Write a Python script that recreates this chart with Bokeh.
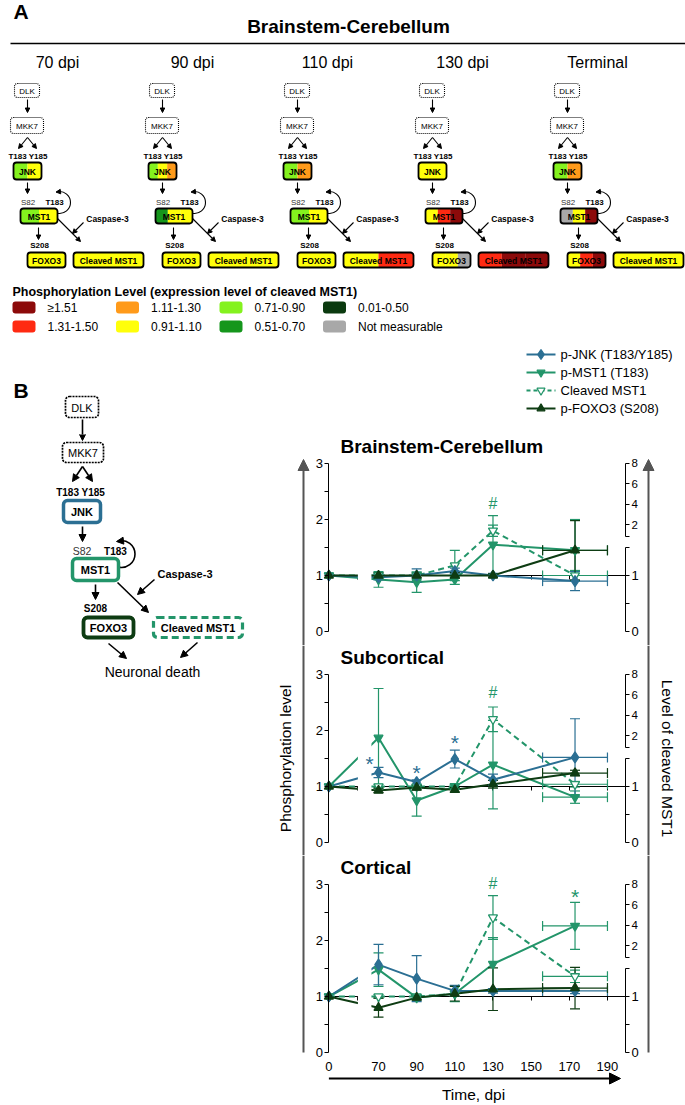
import math
from bokeh.plotting import figure
from bokeh.models import Range1d, LinearAxis, FixedTicker, BoxAnnotation, Arrow, NormalHead
from bokeh.layouts import column, row
from bokeh.embed import file_html
from bokeh.resources import INLINE
from bokeh.core.properties import value

# ------------------------------------------------------------------ data
PANEL_A_REGION = "Brainstem-Cerebellum"
A_TIMEPOINTS = ["70 dpi", "90 dpi", "110 dpi", "130 dpi", "Terminal"]

PHOSPHO_BINS = ["\u22651.51", "1.31-1.50", "1.11-1.30", "0.91-1.10",
                "0.71-0.90", "0.51-0.70", "0.01-0.50", "Not measurable"]
PHOSPHO_COLORS = ["#8c0a0a", "#ff2a12", "#ff9a1a", "#ffff0a",
                  "#84f21e", "#15961c", "#0b3a0f", "#a8a8a8"]

# colour bins (index into PHOSPHO_BINS) of each box, left to right, per time point
A_JNK_BINS = [[4, 3], [4, 3, 2], [4, 2], [3], [4, 2]]
A_MST1_BINS = [[4, 3], [5, 3, 3], [4, 3], [3, 1, 0], [7, 3, 0]]
A_FOXO3_BINS = [[3], [3], [3], [3, 3, 7], [3, 1, 0]]
A_CLEAVED_BINS = [[3], [3], [3, 1], [1, 0, 0], [3]]

REGIONS = ["Brainstem-Cerebellum", "Subcortical", "Cortical"]
SERIES = ["p-JNK (T183/Y185)", "p-MST1 (T183)", "Cleaved MST1", "p-FOXO3 (S208)"]
TIME_DPI = [0, 70, 90, 110, 130, 173]
TERMINAL_SD_DPI = 17
X_TICKS = [0, 70, 90, 110, 130, 150, 170, 190]
Y_TICKS = [0, 1, 2, 3]
CLEAVED_LO_TICKS = [0, 1]
CLEAVED_HI_TICKS = [2, 4, 6, 8]

BC_JNK = [1.00, 0.97, 1.00, 1.08, 1.00, 0.90]
BC_JNK_SEM = [0.0, 0.05, 0.12, 0.05, 0.04, 0.17]
BC_MST1 = [1.00, 0.93, 0.88, 0.93, 1.55, 1.45]
BC_MST1_SEM = [0.0, 0.14, 0.18, 0.09, 0.52, 0.55]
BC_CLEAVED = [1.00, 1.00, 1.00, 1.18, 1.80, 1.00]
BC_CLEAVED_SEM = [0.0, 0.04, 0.06, 0.27, 0.10, 0.09]
BC_FOXO3 = [1.00, 1.00, 1.00, 1.00, 1.00, 1.45]
BC_FOXO3_SEM = [0.0, 0.05, 0.04, 0.05, 0.03, 0.53]

SC_JNK = [1.00, 1.25, 1.08, 1.49, 1.12, 1.52]
SC_JNK_SEM = [0.0, 0.09, 0.04, 0.16, 0.10, 0.69]
SC_MST1 = [1.00, 1.87, 0.75, 1.00, 1.39, 0.81]
SC_MST1_SEM = [0.0, 0.88, 0.28, 0.05, 0.79, 0.11]
SC_CLEAVED = [1.00, 1.00, 1.00, 1.00, 2.20, 1.04]
SC_CLEAVED_SEM = [0.0, 0.04, 0.03, 0.04, 0.22, 0.05]
SC_FOXO3 = [1.00, 0.93, 0.98, 0.94, 1.04, 1.24]
SC_FOXO3_SEM = [0.0, 0.04, 0.04, 0.04, 0.07, 0.05]

CX_JNK = [1.00, 1.57, 1.32, 1.10, 1.10, 1.10]
CX_JNK_SEM = [0.0, 0.36, 0.41, 0.10, 0.04, 0.05]
CX_MST1 = [1.00, 1.48, 0.98, 1.05, 1.58, 2.26]
CX_MST1_SEM = [0.0, 0.30, 0.04, 0.14, 0.47, 0.42]
CX_CLEAVED = [1.00, 1.00, 1.00, 1.05, 2.41, 1.36]
CX_CLEAVED_SEM = [0.0, 0.03, 0.03, 0.05, 0.39, 0.11]
CX_FOXO3 = [1.00, 0.80, 0.98, 1.05, 1.13, 1.15]
CX_FOXO3_SEM = [0.0, 0.17, 0.04, 0.13, 0.38, 0.37]

SIG_REGION = [0, 1, 1, 1, 1, 2, 2]
SIG_DPI = [130, 70, 90, 110, 130, 130, 173]
SIG_LEVEL = [2.28, 1.48, 1.32, 1.86, 2.67, 3.02, 2.86]
SIG_MARK = ["#", "*", "*", "*", "#", "#", "*"]
SIG_SERIES = [1, 0, 0, 0, 1, 1, 1]
SIG_NUDGE_PX = [0, -9, 0, 0, 0, 0, 0]

# ------------------------------------------------------------------ style
FONT = "Liberation Sans"
JNK_C = "#2b6f93"
MST1_C = "#23956a"
FOXO3_C = "#0e3c13"
AX_C = "#555555"
SERIES_STYLE = [
    dict(color=JNK_C, marker="diamond", size=11, fill=JNK_C, dash="solid"),
    dict(color=MST1_C, marker="inverted_triangle", size=9, fill=MST1_C, dash="solid"),
    dict(color=MST1_C, marker="inverted_triangle", size=9, fill="white", dash="6 4"),
    dict(color=FOXO3_C, marker="triangle", size=9, fill=FOXO3_C, dash="solid"),
]
DRAW_ORDER = [2, 1, 0, 3]

PXU = 56.0
X_PX_PER_DPI = 1.908
X70_PX = 378


def dx(px):
    return 70 + (px - X70_PX) / X_PX_PER_DPI


X_ZERO = 44


def disp(t):
    return X_ZERO if t == 0 else t


GAP_L, GAP_R = 59.0, 66.3
RIGHT_AXIS_X = dx(625)
LEFT_ARROW_X = dx(303)
RIGHT_ARROW_X = dx(648)


def hi(L):
    return 2 + (L - 1.91) * 5.5


PAGE_W, PAGE_H = 685, 1105
SPLIT_X, SPLIT_Y = 272, 434
P_TOP = [434, 645, 855]
P_BOT = [645, 855, 1105]
P_ZERO = [631, 842, 1052]


# ------------------------------------------------------------------ helpers (page-pixel figures)
def page_fig(w, h, x0, y0):
    return figure(width=w, height=h, x_range=Range1d(x0, x0 + w), y_range=Range1d(-(y0 + h), -y0),
                  x_axis_type=None, y_axis_type=None, output_backend="svg",
                  toolbar_location=None, min_border=0, outline_line_color=None)


def T(f, x, py, s, size, bold=False, align="center", color="black", angle=0.0):
    f.text(x=[x], y=[-py], text=[s], text_font=value(FONT), text_font_size=f"{size}px",
           text_font_style="bold" if bold else "normal", text_align=align,
           text_baseline="middle", text_color=color, angle=angle)


def ARW(f, x0, py0, x1, py1, head=5, lw=1.2, color="black"):
    f.add_layout(Arrow(x_start=x0, y_start=-py0, x_end=x1, y_end=-py1, line_color=color,
                       line_width=lw, end=NormalHead(size=head, fill_color=color,
                                                     line_color=color, line_width=1)))


def FILLS(f, x0, x1, py0, py1, colors):
    n = len(colors)
    w = (x1 - x0) / n
    f.quad(left=[x0 + i * w for i in range(n)], right=[x0 + (i + 1) * w for i in range(n)],
           top=[-py0 - 0.5] * n, bottom=[-py1 + 0.5] * n, fill_color=colors, line_color=None)


def OUTLINE(f, x0, x1, py0, py1, lw=1.8, color="black", dash="solid", r=3):
    f.add_layout(BoxAnnotation(left=x0, right=x1, top=-py0, bottom=-py1, fill_alpha=0,
                               line_color=color, line_alpha=1, line_width=lw,
                               line_dash=dash, border_radius=r))


def ARC(f, cx, cpy, r, a0, a1, lw=1.2):
    f.arc(x=[cx], y=[-cpy], radius=r, start_angle=math.radians(a0), end_angle=math.radians(a1),
          direction="anticlock", line_color="black", line_width=lw)


def bins_to_colors(b):
    return [PHOSPHO_COLORS[i] for i in b]


# ------------------------------------------------------------------ top figure (panel A + B header)
top = page_fig(PAGE_W, SPLIT_Y, 0, 0)

T(top, 13, 11, "A", 21, bold=True, align="left")
T(top, 348, 26, PANEL_A_REGION, 19, bold=True)
top.segment(x0=[10], y0=[-43], x1=[685], y1=[-43], line_color="black", line_width=1.5)


def small_pathway(f, ox, k):
    OUTLINE(f, ox - 13, ox + 12, 83, 97, lw=1.1, dash="1 1", r=3)
    T(f, ox - 0.5, 90.5, "DLK", 8)
    ARW(f, ox, 99, ox, 112, head=4.5, lw=1.1)
    OUTLINE(f, ox - 17, ox + 16, 117, 133, lw=1.1, dash="1 1", r=3)
    T(f, ox - 0.5, 125.5, "MKK7", 8)
    ARW(f, ox, 137, ox - 9, 148, head=4.5, lw=1.1)
    ARW(f, ox, 137, ox + 9, 148, head=4.5, lw=1.1)
    T(f, ox + 0.5, 155.5, "T183 Y185", 8, bold=True)
    FILLS(f, ox - 14, ox + 14, 162, 179, bins_to_colors(A_JNK_BINS[k]))
    OUTLINE(f, ox - 14, ox + 14, 162, 179, lw=1.8)
    T(f, ox, 171, "JNK", 8.5, bold=True)
    ARW(f, ox, 182, ox, 193, head=4.5, lw=1.1)
    T(f, ox + 0.5, 201.5, "S82", 8, color="#333333")
    T(f, ox + 27, 201.5, "T183", 8, bold=True)
    FILLS(f, ox - 7, ox + 30, 208, 223, bins_to_colors(A_MST1_BINS[k]))
    OUTLINE(f, ox - 7, ox + 30, 208, 223, lw=1.8)
    T(f, ox + 11.5, 216, "MST1", 8.5, bold=True)
    ARC(f, ox + 32, 202, 11, -100, 100, lw=1.1)
    ARW(f, ox + 32, 191.2, ox + 28.5, 191.6, head=4.5, lw=1.1)
    T(f, ox + 80, 218.5, "Caspase-3", 8.5, bold=True)
    ARW(f, ox + 56, 222, ox + 45, 233, head=4.5, lw=1.1)
    ARW(f, ox + 30, 218, ox + 53, 241, head=4.5, lw=1.1)
    ARW(f, ox + 11, 227, ox + 11, 239, head=4.5, lw=1.1)
    T(f, ox + 12, 244.5, "S208", 8, bold=True)
    FILLS(f, ox, ox + 38, 252, 267, bins_to_colors(A_FOXO3_BINS[k]))
    OUTLINE(f, ox, ox + 38, 252, 267, lw=1.8)
    T(f, ox + 19, 260, "FOXO3", 8.5, bold=True)
    FILLS(f, ox + 46, ox + 116, 252, 267, bins_to_colors(A_CLEAVED_BINS[k]))
    OUTLINE(f, ox + 46, ox + 116, 252, 267, lw=1.8)
    T(f, ox + 81, 260, "Cleaved MST1", 8.5, bold=True)


for k, lab in enumerate(A_TIMEPOINTS):
    ox = 27 + 135 * k
    T(top, ox + 30, 62, lab, 16)
    small_pathway(top, ox, k)

# phosphorylation legend
T(top, 12, 291, "Phosphorylation Level (expression level of cleaved MST1)", 12.5, bold=True, align="left")
for i, (lab, col) in enumerate(zip(PHOSPHO_BINS, PHOSPHO_COLORS)):
    c, r = i // 2, i % 2
    x0 = 12 + 103.5 * c
    yc = [307, 326][r]
    top.add_layout(BoxAnnotation(left=x0, right=x0 + 23, top=-(yc - 6), bottom=-(yc + 6),
                                 fill_color=col, fill_alpha=1, line_color=None, border_radius=3))
    T(top, x0 + 35, yc, lab, 12, align="left")

# panel B label, legend, top of pathway
T(top, 13, 390, "B", 21, bold=True, align="left")
for i, name in enumerate(SERIES):
    st = SERIES_STYLE[i]
    py = 354 + 18 * i
    top.segment(x0=[526], y0=[-py], x1=[555], y1=[-py], line_color=st["color"], line_width=2,
                line_dash=("4 3" if st["dash"] != "solid" else "solid"))
    top.scatter([540.5], [-py], marker=st["marker"], size=st["size"] - 1, fill_color=st["fill"],
                line_color=st["color"], line_width=1.2)
    T(top, 560, py, name, 13, align="left")

OUTLINE(top, 65, 98, 396, 417, lw=1.7, dash="2 1", r=4)
T(top, 81.5, 407, "DLK", 11)
top.segment(x0=[82], y0=[-419], x1=[82], y1=[-434], line_color="black", line_width=1.6)

# ------------------------------------------------------------------ left figure (panel B pathway)
left = page_fig(SPLIT_X, PAGE_H - SPLIT_Y, 0, SPLIT_Y)
ARW(left, 82, 433, 82, 440, head=7, lw=1.6)
OUTLINE(left, 62, 103, 442, 462, lw=1.7, dash="2 1", r=4)
T(left, 82.5, 452.5, "MKK7", 11)
ARW(left, 82, 466, 72, 481, head=7, lw=1.6)
ARW(left, 82, 466, 92, 481, head=7, lw=1.6)
T(left, 81.5, 491.5, "T183  Y185", 10, bold=True)
OUTLINE(left, 63, 100, 500, 522, lw=3.5, color=JNK_C, r=4)
T(left, 81.5, 511.5, "JNK", 11, bold=True)
ARW(left, 82, 526, 82, 541, head=7, lw=1.6)
T(left, 81.5, 550.5, "S82", 10.5, color="#333333")
T(left, 115, 550.5, "T183", 10, bold=True)
OUTLINE(left, 72, 118, 558, 580, lw=3.5, color=MST1_C, r=4)
T(left, 95, 569.5, "MST1", 11, bold=True)
ARC(left, 121, 553.5, 13.5, -105, 105, lw=1.6)
ARW(left, 121, 540.4, 116, 541, head=7, lw=1.6)
T(left, 184.5, 573.5, "Caspase-3", 11, bold=True)
ARW(left, 154, 579, 137, 594, head=7, lw=1.6)
ARW(left, 117, 582, 148, 612, head=7, lw=1.6)
ARW(left, 95, 584, 95, 599, head=7, lw=1.6)
T(left, 95, 607.5, "S208", 10, bold=True)
OUTLINE(left, 83, 133, 617, 637, lw=3.8, color=FOXO3_C, r=4)
T(left, 108, 627.5, "FOXO3", 11, bold=True)
OUTLINE(left, 153, 242, 617, 637, lw=3.2, color=MST1_C, dash="7 4", r=4)
T(left, 197.5, 627.5, "Cleaved MST1", 11, bold=True)
ARW(left, 108, 643, 126, 658, head=7, lw=1.6)
ARW(left, 197, 642, 180, 657, head=7, lw=1.6)
T(left, 152, 671, "Neuronal death", 14)

# ------------------------------------------------------------------ panel B plots
REGION_DATA = [
    [(BC_JNK, BC_JNK_SEM), (BC_MST1, BC_MST1_SEM), (BC_CLEAVED, BC_CLEAVED_SEM), (BC_FOXO3, BC_FOXO3_SEM)],
    [(SC_JNK, SC_JNK_SEM), (SC_MST1, SC_MST1_SEM), (SC_CLEAVED, SC_CLEAVED_SEM), (SC_FOXO3, SC_FOXO3_SEM)],
    [(CX_JNK, CX_JNK_SEM), (CX_MST1, CX_MST1_SEM), (CX_CLEAVED, CX_CLEAVED_SEM), (CX_FOXO3, CX_FOXO3_SEM)],
]


def style_axis(ax, size):
    ax.major_label_text_font = FONT
    ax.major_label_text_font_size = f"{size}px"
    ax.major_label_text_color = "black"
    ax.axis_line_color = "black"
    ax.axis_line_width = 1
    ax.major_tick_line_color = "black"
    ax.minor_tick_line_color = "black"
    ax.major_tick_in = 0
    ax.major_tick_out = 4
    ax.minor_tick_in = 0
    ax.minor_tick_out = 4
    ax.major_label_standoff = 2


def PT(p, x, y, s, size, bold=False, align="center", color="black", angle=0.0):
    p.text(x=[x], y=[y], text=[s], text_font=value(FONT), text_font_size=f"{size}px",
           text_font_style="bold" if bold else "normal", text_align=align,
           text_baseline="middle", text_color=color, angle=angle)


CAP_X = 5 / X_PX_PER_DPI
CAP_Y = 5 / PXU


def make_panel(k):
    top_px, bot_px, zero_px = P_TOP[k], P_BOT[k], P_ZERO[k]

    def L(py):
        return (zero_px - py) / PXU

    ylo, yhi = L(bot_px), L(top_px)
    p = figure(width=PAGE_W - SPLIT_X, height=bot_px - top_px,
               x_range=Range1d(dx(SPLIT_X), dx(PAGE_W)),
               y_range=Range1d(ylo, yhi), x_axis_type=None, y_axis_type=None,
               output_backend="svg", toolbar_location=None, min_border=0, outline_line_color=None)
    p.extra_y_ranges = {"clv": Range1d(hi(ylo), hi(yhi))}

    # baseline (x axis drawn at level 1)
    bticks = [GAP_L] + X_TICKS[1:]
    base = LinearAxis(fixed_location=1.0, bounds=(X_ZERO, RIGHT_AXIS_X),
                      ticker=FixedTicker(ticks=bticks),
                      major_label_overrides={t: "" for t in bticks})
    style_axis(base, 10)
    base.level = "underlay"
    p.add_layout(base, "below")

    yl = LinearAxis(fixed_location=X_ZERO, bounds=(0, 3),
                    ticker=FixedTicker(ticks=Y_TICKS, minor_ticks=[0.5, 1.5, 2.5]))
    style_axis(yl, 13)
    p.add_layout(yl, "left")

    yr = LinearAxis(fixed_location=RIGHT_AXIS_X, bounds=(0, 1.5),
                    ticker=FixedTicker(ticks=CLEAVED_LO_TICKS, minor_ticks=[0.5, 1.5]))
    style_axis(yr, 13)
    p.add_layout(yr, "right")

    yr2 = LinearAxis(fixed_location=RIGHT_AXIS_X, y_range_name="clv", bounds=(hi(1.70), 8),
                     ticker=FixedTicker(ticks=CLEAVED_HI_TICKS, minor_ticks=[hi(1.70)]))
    style_axis(yr2, 11.5)
    p.add_layout(yr2, "right")

    data = REGION_DATA[k]
    xs = [disp(t) for t in TIME_DPI]
    for s in DRAW_ORDER:
        v, _ = data[s]
        st = SERIES_STYLE[s]
        p.line(xs, v, line_color=st["color"], line_width=2, line_dash=st["dash"])
    for s in DRAW_ORDER:
        v, e = data[s]
        st = SERIES_STYLE[s]
        bx = [x for x, ee in zip(xs, e) if ee > 0]
        bv = [vv for vv, ee in zip(v, e) if ee > 0]
        be = [ee for ee in e if ee > 0]
        p.segment(x0=bx, y0=[a - b for a, b in zip(bv, be)], x1=bx, y1=[a + b for a, b in zip(bv, be)],
                  line_color=st["color"], line_width=1.2)
        p.segment(x0=[x - CAP_X for x in bx] * 2, x1=[x + CAP_X for x in bx] * 2,
                  y0=[a - b for a, b in zip(bv, be)] + [a + b for a, b in zip(bv, be)],
                  y1=[a - b for a, b in zip(bv, be)] + [a + b for a, b in zip(bv, be)],
                  line_color=st["color"], line_width=1.2)
        # terminal horizontal spread
        tx, tv = TIME_DPI[-1], v[-1]
        xa, xb = tx - TERMINAL_SD_DPI, tx + TERMINAL_SD_DPI
        p.segment(x0=[xa, xa, xb], y0=[tv, tv - CAP_Y, tv - CAP_Y], x1=[xb, xa, xb],
                  y1=[tv, tv + CAP_Y, tv + CAP_Y], line_color=st["color"], line_width=1.2)
    for s in DRAW_ORDER:
        v, _ = data[s]
        st = SERIES_STYLE[s]
        p.scatter(xs, v, marker=st["marker"], size=st["size"], fill_color=st["fill"],
                  line_color=st["color"], line_width=1.3)

    # axis break
    p.quad(left=[GAP_L + 0.2], right=[GAP_R], bottom=[0.03], top=[3.25], fill_color="white",
           line_color=None)

    # significance marks
    for i in range(len(SIG_MARK)):
        if SIG_REGION[i] != k:
            continue
        star = SIG_MARK[i] == "*"
        p.text(x=[SIG_DPI[i]], y=[SIG_LEVEL[i]], text=[SIG_MARK[i]], text_font=value(FONT),
               text_font_size="21px" if star else "16px", text_align="center",
               text_baseline="middle", text_color=SERIES_STYLE[SIG_SERIES[i]]["color"],
               x_offset=SIG_NUDGE_PX[i], y_offset=4 if star else 0)

    PT(p, dx(340), 3.31, REGIONS[k], 19, bold=True, align="left")

    # long outer axes
    for xa in (LEFT_ARROW_X, RIGHT_ARROW_X):
        if k == 0:
            p.add_layout(Arrow(x_start=xa, y_start=ylo, x_end=xa, y_end=L(459), line_color=AX_C,
                               line_width=2, end=NormalHead(size=11, fill_color=AX_C, line_color=AX_C)))
        elif k == 1:
            p.segment(x0=[xa], y0=[ylo], x1=[xa], y1=[yhi], line_color=AX_C, line_width=2)
        else:
            p.segment(x0=[xa], y0=[0], x1=[xa], y1=[yhi], line_color=AX_C, line_width=2)

    if k == 1:
        PT(p, dx(285), 1.5, "Phosphorylation level", 15.5, angle=math.pi / 2)
        PT(p, dx(667), 1.5, "Level of cleaved MST1", 15.5, angle=-math.pi / 2)

    if k == 2:
        lticks = [X_ZERO] + X_TICKS[1:]
        xl = LinearAxis(fixed_location=L(1059), ticker=FixedTicker(ticks=lticks),
                        major_label_overrides={X_ZERO: str(X_TICKS[0])})
        style_axis(xl, 13)
        xl.axis_line_color = None
        xl.major_tick_line_color = None
        xl.minor_tick_line_color = None
        xl.major_tick_out = 0
        p.add_layout(xl, "below")
        p.add_layout(Arrow(x_start=X_ZERO, y_start=L(1078), x_end=dx(620), y_end=L(1078),
                           line_color="black", line_width=2,
                           end=NormalHead(size=11, fill_color="black", line_color="black")))
        PT(p, dx(473), L(1094), "Time, dpi", 15.5)
    return p


panels = [make_panel(k) for k in range(3)]

layout = column(top, row(left, column(*panels)))
open("out.html", "w").write(file_html(layout, INLINE))
